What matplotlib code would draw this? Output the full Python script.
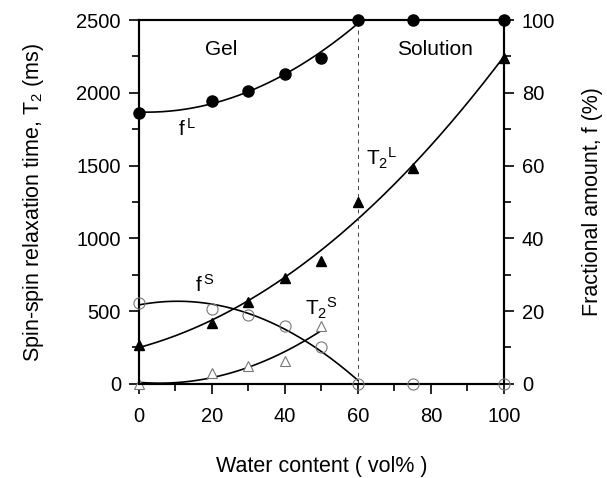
import numpy as np
import matplotlib.pyplot as plt
from matplotlib.ticker import MultipleLocator

plt.rcParams['font.family'] = ['Liberation Sans', 'DejaVu Sans']
plt.rcParams['mathtext.fontset'] = 'custom'
plt.rcParams['mathtext.rm'] = 'Liberation Sans'
plt.rcParams['mathtext.it'] = 'Liberation Sans'

# water content (vol%) and measured values
water = [0, 20, 30, 40, 50, 60, 75, 100]
t2_long = [268, 421, 565, 726, 845, 1248, 1486, 2237]        # ms, filled triangles
f_long = [74.4, 77.7, 80.5, 85.3, 89.7, 100, 100, 100]        # %, filled circles
f_short = [22.2, 20.7, 19.0, 15.9, 10.0, 0, 0, 0]             # %, open circles
water_t2s = [0, 20, 30, 40, 50]
t2_short = [0, 73, 126, 158, 398]                             # ms, open triangles

fig = plt.figure(figsize=(6.07, 4.78), dpi=100)
ax = fig.add_axes([0.229, 0.197, 0.601, 0.761])
ax2 = ax.twinx()

# fitted trend lines
x = np.array(water, dtype=float)
xs = np.linspace(0, 100, 200)
p = np.polyfit(x, t2_long, 2)
ax.plot(xs, np.polyval(p, xs), color='black', lw=1.2)

xg = np.linspace(0, 60, 200)
p = np.polyfit(x[:6], f_long[:6], 2)
ax2.plot(xg, np.polyval(p, xg), color='black', lw=1.2)
ax2.plot([60, 100], [100, 100], color='black', lw=1.2)

p = np.polyfit(x[:6], f_short[:6], 2)
ax2.plot(xg, np.polyval(p, xg), color='black', lw=1.2)

xt = np.linspace(0, 50, 200)
p = np.polyfit(water_t2s, t2_short, 2)
ax.plot(xt, np.clip(np.polyval(p, xt), 0, None), color='black', lw=1.2)

# data points
ax.plot(water, t2_long, '^', color='black', ms=7, clip_on=False, zorder=5)
ax.plot(water_t2s, t2_short, '^', mfc='white', mec='#777777', mew=0.8, ms=7,
        clip_on=False, zorder=5)
ax2.plot(water, f_long, 'o', color='black', ms=8, clip_on=False, zorder=5)
ax2.plot(water, f_short, 'o', mfc='none', mec='#777777', mew=0.8, ms=8,
         clip_on=False, zorder=4)

# gel / solution boundary
ax.axvline(60, color='#444444', lw=0.7, ls=(0, (4, 4)))

ax.set_xlim(0, 100)
ax.set_ylim(0, 2500)
ax2.set_ylim(0, 100)

ax.xaxis.set_major_locator(MultipleLocator(20))
ax.xaxis.set_minor_locator(MultipleLocator(10))
ax.yaxis.set_major_locator(MultipleLocator(500))
ax.yaxis.set_minor_locator(MultipleLocator(250))
ax2.yaxis.set_major_locator(MultipleLocator(20))
ax2.yaxis.set_minor_locator(MultipleLocator(10))

for a in (ax, ax2):
    a.tick_params(which='major', direction='out', length=7, width=1.2,
                  labelsize=14.5, pad=6)
    a.tick_params(which='minor', direction='out', length=5, width=1.2)
    for s in a.spines.values():
        s.set_linewidth(1.5)
ax.tick_params(axis='x', which='both', top=False)
ax.tick_params(axis='x', pad=10)

ax.set_xlabel('Water content ( vol% )', fontsize=15.5, labelpad=21)
ax.set_ylabel('Spin-spin relaxation time, T$_2$ (ms)', fontsize=15.5, labelpad=22)
ax2.set_ylabel('Fractional amount, f (%)', fontsize=15.5, labelpad=19)

ax.text(22.5, 2300, 'Gel', fontsize=15, ha='center', va='center')
ax.text(81, 2300, 'Solution', fontsize=15, ha='center', va='center')
ax.text(13, 1750, 'f$^{\\,\\mathregular{L}}$', fontsize=15, ha='center', va='center')
ax.text(66.5, 1550, 'T$_2$$^{\\mathregular{L}}$', fontsize=15, ha='center', va='center')
ax.text(18, 680, 'f$^{\\,\\mathregular{S}}$', fontsize=15, ha='center', va='center')
ax.text(50, 520, 'T$_2$$^{\\mathregular{S}}$', fontsize=15, ha='center', va='center')

fig.savefig('out.png', dpi=100)
